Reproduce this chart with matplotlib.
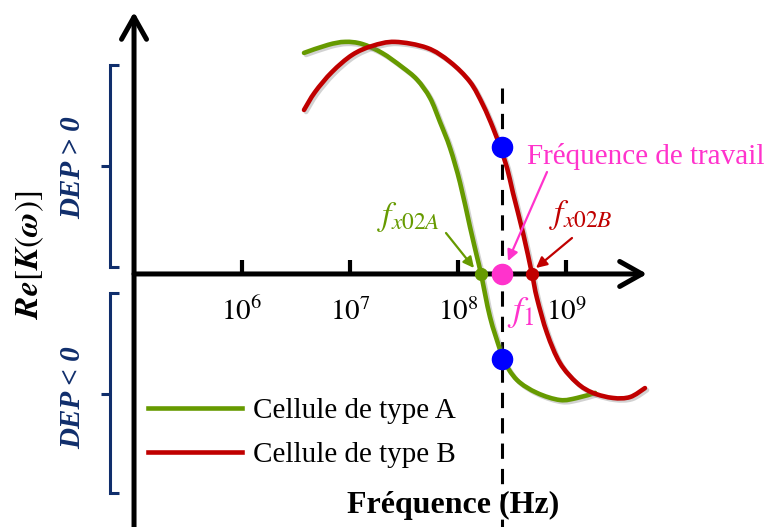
import numpy as np
import matplotlib
matplotlib.use("Agg")
import matplotlib.pyplot as plt
from matplotlib.transforms import Affine2D
from matplotlib.path import Path
from matplotlib.patches import PathPatch
from matplotlib.lines import Line2D
import matplotlib.patheffects as pe

# ---------------- data ----------------
# log10 of frequency (Hz) and Re[K(w)] for each cell type
green_logf = [6.574, 6.796, 6.954, 7.111, 7.296, 7.481, 7.620, 7.741, 7.833, 7.926,
              8.019, 8.111, 8.176, 8.213, 8.296, 8.389, 8.417, 8.546, 8.731, 8.944,
              9.102, 9.269]
green_re = [0.961, 0.996, 1.009, 1.000, 0.961, 0.900, 0.845, 0.765, 0.661, 0.548,
            0.396, 0.204, 0.074, 0.000, -0.187, -0.330, -0.374, -0.461, -0.517, -0.548,
            -0.539, -0.517]

red_logf = [6.574, 6.676, 6.833, 7.019, 7.204, 7.417, 7.713, 7.926, 8.111, 8.231,
            8.324, 8.389, 8.454, 8.509, 8.602, 8.685, 8.731, 8.824, 8.944, 9.102,
            9.250, 9.435, 9.593, 9.731]
red_re = [0.713, 0.791, 0.878, 0.952, 0.991, 1.009, 0.983, 0.922, 0.835, 0.735,
          0.635, 0.552, 0.461, 0.352, 0.178, 0.000, -0.105, -0.257, -0.387, -0.474,
          -0.517, -0.539, -0.535, -0.496]

series_labels = ["Cellule de type A", "Cellule de type B"]
tick_exponents = [6, 7, 8, 9]
tick_labels = [r"$10^{6}$", r"$10^{7}$", r"$10^{8}$", r"$10^{9}$"]

f1_log = 8.41            # working frequency
re_B_at_f1 = 0.552       # blue point on curve B
re_A_at_f1 = -0.370      # blue point on curve A
fx02A_log = 8.213        # crossover frequency A
fx02B_log = 8.685        # crossover frequency B

# ---------------- style ----------------
GREEN = "#669A00"
RED = "#C00000"
MAGENTA = "#FF33CC"
NAVY = "#102E6C"
SERIF = "Liberation Serif"
plt.rcParams["font.family"] = [SERIF, "DejaVu Serif"]
plt.rcParams["mathtext.fontset"] = "stix"

W, H = 771, 527
fig = plt.figure(figsize=(W / 100, H / 100), dpi=100)
ax = fig.add_axes([0, 0, 1, 1])
ax.set_xscale("log")
ax.axis("off")
PX = Affine2D().scale(1, -1).translate(0, H)   # pixel coords, origin top-left

shadow = [pe.SimpleLineShadow(offset=(1.5, -1.5), shadow_color="gray", alpha=0.35),
          pe.Normal()]


def smooth_path(xs_log, ys):
    """Catmull-Rom curve through the read points, as cubic Bezier segments
    (built in log10(f) space, vertices handed to the log axis in Hz)."""
    p = np.column_stack([xs_log, ys]).astype(float)
    ext = np.vstack([p[0], p, p[-1]])
    verts = [p[0]]
    codes = [Path.MOVETO]
    for i in range(1, len(ext) - 2):
        p0, p1, p2, p3 = ext[i - 1], ext[i], ext[i + 1], ext[i + 2]
        c1 = p1 + (p2 - p0) / 6.0
        c2 = p2 - (p3 - p1) / 6.0
        verts += [c1, c2, p2]
        codes += [Path.CURVE4] * 3
    v = np.array(verts)
    v[:, 0] = 10 ** v[:, 0]
    return Path(v, codes)


# axes as arrows
xmin_log, xmax_log = 5.0, 9.75
arrow_kw = dict(arrowstyle="->,head_length=0.8,head_width=0.45", lw=3.6,
                color="black", shrinkA=0, shrinkB=0, mutation_scale=20)
ax.annotate("", xy=(10 ** xmax_log, 0), xytext=(10 ** xmin_log, 0),
            arrowprops=arrow_kw, zorder=3)
ax.annotate("", xy=(10 ** xmin_log, 1.139), xytext=(10 ** xmin_log, -1.2),
            arrowprops=arrow_kw, zorder=3)

# ticks + labels
for e, lab in zip(tick_exponents, tick_labels):
    ax.plot([10 ** e, 10 ** e], [0, 0.06], color="black", lw=3,
            solid_capstyle="butt", zorder=3)
    ax.text(10 ** e, -0.2, lab, ha="center", va="baseline", fontsize=21, zorder=3)

# dashed working-frequency line
f1 = 10 ** f1_log
ax.plot([f1, f1], [0.81, -1.2], color="black", lw=2.2,
        linestyle=(0, (5, 3.3)), zorder=2)

# curves
for xs, ys, col in [(green_logf, green_re, GREEN), (red_logf, red_re, RED)]:
    patch = PathPatch(smooth_path(xs, ys), facecolor="none", edgecolor=col,
                      lw=3.3, capstyle="round", zorder=4, path_effects=shadow)
    ax.add_patch(patch)

# points
ax.plot([10 ** fx02A_log], [0], "o", color=GREEN, ms=8.5, zorder=6)
ax.plot([10 ** fx02B_log], [0], "o", color=RED, ms=8.5, zorder=6)
ax.plot([f1], [0], "o", color=MAGENTA, ms=14.5, zorder=6)
ax.plot([f1, f1], [re_B_at_f1, re_A_at_f1], "o", color="blue", ms=14.5,
        linestyle="none", zorder=6)

# annotations (pixel coordinates)
ax.text(527, 157, "Fréquence de travail", transform=PX, color=MAGENTA,
        fontsize=21, ha="left", va="center")
ax.annotate("", xy=(508, 261), xytext=(547, 172), xycoords=PX, textcoords=PX,
            arrowprops=dict(arrowstyle="-|>", color=MAGENTA, lw=1.6,
                            mutation_scale=16, shrinkA=0, shrinkB=0), zorder=7)
ax.text(377, 217, r"$f_{x02A}$", transform=PX, color=GREEN, fontsize=24,
        ha="left", va="center")
ax.annotate("", xy=(474, 268), xytext=(446, 233), xycoords=PX, textcoords=PX,
            arrowprops=dict(arrowstyle="-|>", color=GREEN, lw=1.6,
                            mutation_scale=16, shrinkA=0, shrinkB=0), zorder=7)
ax.text(549, 215, r"$f_{x02B}$", transform=PX, color=RED, fontsize=24,
        ha="left", va="center")
ax.annotate("", xy=(536, 268), xytext=(572, 238), xycoords=PX, textcoords=PX,
            arrowprops=dict(arrowstyle="-|>", color=RED, lw=1.6,
                            mutation_scale=16, shrinkA=0, shrinkB=0), zorder=7)
ax.text(507, 312, r"$f_1$", transform=PX, color=MAGENTA, fontsize=26,
        ha="left", va="center", zorder=7)


# DEP brackets
def bracket(top, bottom, mid):
    ax.plot([119, 110, 110, 119], [top, top, bottom, bottom], transform=PX,
            color=NAVY, lw=2.2, solid_joinstyle="miter", solid_capstyle="butt")
    ax.plot([110, 101], [mid, mid], transform=PX, color=NAVY, lw=2.2,
            solid_capstyle="butt")


bracket(65, 267, 166)
bracket(293, 493, 394)
ax.text(73, 168, "DEP > 0", transform=PX, rotation=90, color=NAVY,
        fontsize=21, fontweight="bold", fontstyle="italic",
        ha="center", va="center")
ax.text(73, 398, "DEP < 0", transform=PX, rotation=90, color=NAVY,
        fontsize=21, fontweight="bold", fontstyle="italic",
        ha="center", va="center")

# axis titles
ax.text(30, 255, r"$\mathbfit{Re}[\mathbfit{K}(\mathbfit{\omega})]$", transform=PX,
        rotation=90, fontsize=24, ha="center", va="center")
ax.text(453, 505, "Fréquence (Hz)", transform=PX, fontsize=23,
        fontweight="bold", ha="center", va="center")

# legend
handles = [Line2D([], [], color=GREEN, lw=3.3), Line2D([], [], color=RED, lw=3.3)]
leg = ax.legend(handles, series_labels, loc="center left",
                bbox_to_anchor=(148 / W, 1 - 433 / H),
                frameon=False, fontsize=21, handlelength=3.22,
                handletextpad=0.38, labelspacing=0.6, borderpad=0,
                borderaxespad=0)

ax.set_xlim(10 ** 3.759, 10 ** 10.898)
ax.set_ylim(-1.1, 1.191)

fig.savefig("out.png", dpi=100)
